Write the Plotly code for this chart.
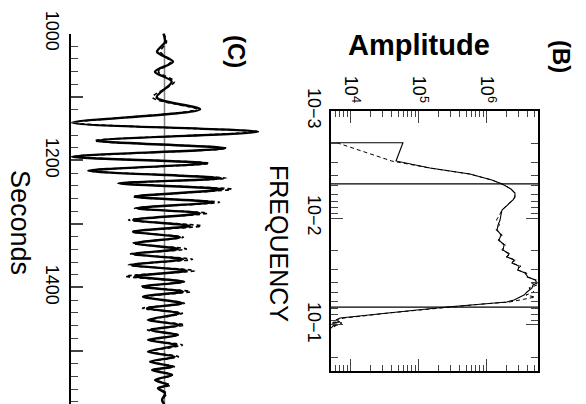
import plotly.graph_objects as go

W, H = 586, 404

# ---------------- Panel B: spectrum ----------------
spec_freq_solid = [1.98e-3, 1.98e-3, 2.93e-3, 3.41e-3, 3.88e-3, 4.42e-3, 4.81e-3, 5.36e-3, 5.84e-3,
                   6.36e-3, 6.79e-3, 7.56e-3, 8.42e-3, 9.38e-3, 1.045e-2, 1.16e-2, 1.29e-2, 1.44e-2,
                   1.61e-2, 1.79e-2, 1.99e-2, 2.17e-2, 2.31e-2, 2.47e-2, 2.63e-2, 2.81e-2, 3.06e-2,
                   3.27e-2, 3.56e-2, 3.80e-2, 4.05e-2, 4.23e-2, 4.51e-2, 4.92e-2, 5.25e-2, 5.48e-2,
                   5.84e-2, 6.09e-2, 6.36e-2, 6.79e-2, 7.24e-2, 7.73e-2, 8.25e-2, 8.61e-2, 8.98e-2,
                   9.38e-2, 9.58e-2, 0.100, 0.102, 0.107]
spec_amp_solid = [4.2e3, 5.9e4, 4.67e4, 1.48e5, 5.7e5, 1.2e6, 1.69e6, 2.29e6, 2.62e6,
                  2.62e6, 2.45e6, 2.0e6, 1.69e6, 1.63e6, 1.58e6, 1.48e6, 1.43e6, 1.63e6,
                  1.53e6, 1.81e6, 1.75e6, 2.14e6, 2.0e6, 2.54e6, 2.37e6, 3.0e6, 2.9e6,
                  3.68e6, 4.07e6, 5.16e6, 5.53e6, 4.83e6, 4.67e6, 3.94e6, 3.56e6, 3.11e6,
                  2.54e6, 2.0e6, 8.0e5, 2.62e5, 9.5e4, 3.44e4, 1.38e4, 7.0e3, 6.1e3,
                  7.0e3, 5.35e3, 6.5e3, 5.5e3, 5.2e3]

spec_freq_dash = [1.98e-3, 2.93e-3, 3.41e-3, 3.88e-3, 4.42e-3, 4.81e-3, 5.36e-3, 5.84e-3,
                  6.36e-3, 6.79e-3, 7.56e-3, 8.42e-3, 9.38e-3, 1.045e-2, 1.16e-2, 1.29e-2, 1.44e-2,
                  1.61e-2, 1.79e-2, 1.99e-2, 2.17e-2, 2.31e-2, 2.47e-2, 2.63e-2, 2.81e-2, 3.06e-2,
                  3.27e-2, 3.56e-2, 3.80e-2, 4.05e-2, 4.23e-2, 4.51e-2, 4.92e-2, 5.25e-2, 5.48e-2,
                  5.84e-2, 6.09e-2, 6.36e-2, 6.79e-2, 7.24e-2, 7.73e-2, 8.25e-2, 8.61e-2, 8.98e-2,
                  9.38e-2, 9.58e-2, 0.100, 0.102, 0.107]
spec_amp_dash = [6.3e3, 4.0e4, 1.45e5, 5.6e5, 1.2e6, 1.69e6, 2.29e6, 2.6e6,
                 2.6e6, 2.45e6, 2.0e6, 1.69e6, 1.55e6, 1.40e6, 1.55e6, 1.38e6, 1.7e6,
                 1.48e6, 1.9e6, 1.68e6, 2.25e6, 1.95e6, 2.7e6, 2.3e6, 3.2e6, 2.8e6,
                 3.9e6, 3.9e6, 5.4e6, 4.6e6, 5.5e6, 4.2e6, 5.0e6, 3.8e6, 5.2e6,
                 3.0e6, 2.2e6, 9.0e5, 2.9e5, 1.0e5, 3.6e4, 1.5e4, 8.0e3, 6.5e3,
                 5.5e3, 7.5e3, 5.3e3, 6.0e3, 5.4e3]

cutoff_freqs = [4.8e-3, 0.068]

freq_tickvals = [1e-3, 1e-2, 1e-1]
freq_ticktext = ["10\u22123", "10\u22122", "10\u22121"]
amp_tickvals = [1e4, 1e5, 1e6]
amp_ticktext = ["10<sup>4</sup>", "10<sup>5</sup>", "10<sup>6</sup>"]

# ---------------- Panel C: waveform ----------------
wave_time = [1000.0, 1013.4, 1028.7, 1044.4, 1060.2, 1075.9, 1100.5, 1119.4, 1140.5, 1154.6,
             1168.8, 1180.8, 1194.0, 1204.4, 1216.1, 1228.0, 1235.9, 1245.4, 1257.0, 1265.8,
             1275.3, 1283.1, 1293.7, 1303.1, 1312.1, 1320.9, 1330.4, 1339.4, 1347.2, 1355.6,
             1364.6, 1373.5, 1382.4, 1390.9, 1398.7, 1406.6, 1414.5, 1424.9, 1432.8, 1440.6,
             1451.2, 1459.1, 1466.9, 1474.8, 1482.7, 1490.6, 1501.1, 1509.0, 1516.9, 1524.7,
             1529.9, 1537.8, 1545.7, 1553.5, 1558.7, 1566.6, 1577.2, 1583.5]
wave_solid = [-1, 0.5, -7.5, 8.5, -9.5, 7.2, -7.8, 35.5, -92.5, 93.5,
              -67.8, 60.5, -92.8, 42.2, -76.2, 57.2, -46.2, 58.5, -29.5, 48.5,
              -27.8, 35.5, -31.5, 25.5, -31.5, 15.5, -29.5, 13.5, -31.5, 18.5,
              -32.8, 22.2, -29.5, 18.5, -21.5, 18.5, -21.5, 17.5, -17.5, 15.5,
              -16.5, 15.5, -14.5, 13.5, -16.5, 12.5, -16.5, 10.5, -14.5, 8.5,
              -12.5, 7.5, -9.5, 3.5, -6.5, 0.5, -2.5, -0.5]
wave_dash = [-1, 2, -4, 6, -6, 10, -12, 32, -90, 90,
             -70, 62, -90, 45, -75, 62, -44, 67, -32, 55,
             -30, 43, -36, 37, -33, 19, -32, 22, -34, 28,
             -36, 30, -39, 20, -24, 26, -20, 20, -22, 18,
             -14, 20, -17, 14, -14, 18, -15, 14, -12, 10,
             -11, 8, -8, 6, -5, 2, -2, 0]
time_tickvals = [1000, 1100, 1200, 1300, 1400, 1500]
time_ticktext = ["1000", "", "1200", "", "1400", ""]

FONT = "Liberation Sans, Arial, sans-serif"

fig = go.Figure()

# Panel B traces
for f in cutoff_freqs:
    fig.add_trace(go.Scatter(x=[1e3, 1e7], y=[f, f], mode="lines",
                             line=dict(color="black", width=1.2),
                             xaxis="x", yaxis="y", showlegend=False))
fig.add_trace(go.Scatter(x=spec_amp_dash, y=spec_freq_dash, mode="lines",
                         line=dict(color="black", width=1, dash="4px,3px"),
                         xaxis="x", yaxis="y", showlegend=False))
fig.add_trace(go.Scatter(x=spec_amp_solid, y=spec_freq_solid, mode="lines",
                         line=dict(color="black", width=1.1),
                         xaxis="x", yaxis="y", showlegend=False))

# Panel C traces
fig.add_trace(go.Scatter(x=[0, 0], y=[1000, 1583.5], mode="lines",
                         line=dict(color="#808080", width=1.5),
                         xaxis="x2", yaxis="y2", showlegend=False))
fig.add_trace(go.Scatter(x=wave_dash, y=wave_time, mode="lines",
                         line=dict(color="black", width=1.6, dash="4px,3px", shape="spline", smoothing=0.8),
                         xaxis="x2", yaxis="y2", showlegend=False))
fig.add_trace(go.Scatter(x=wave_solid, y=wave_time, mode="lines",
                         line=dict(color="black", width=2.4, shape="spline", smoothing=0.8),
                         xaxis="x2", yaxis="y2", showlegend=False))

def px_x(p):
    return p / W

def px_y(p):
    return 1 - p / H

amp_minor = [m * 10 ** e for e in range(3, 7) for m in range(2, 10)]
freq_minor = [m * 10.0 ** e for e in range(-3, 0) for m in range(2, 10)]

fig.update_layout(
    width=W, height=H, autosize=False,
    margin=dict(l=0, r=0, t=0, b=0, autoexpand=False),
    paper_bgcolor="white", plot_bgcolor="rgba(0,0,0,0)",
    font=dict(family=FONT, color="black"),
    xaxis=dict(type="log", range=[3.713, 6.757], domain=[px_x(331), px_x(538)],
               anchor="y", side="top", showline=True, linecolor="black", linewidth=1.6,
               mirror="ticks", ticks="inside", ticklen=12, tickwidth=1.3, automargin=False,
               tickvals=amp_tickvals, ticktext=amp_ticktext, tickangle=90,
               tickfont=dict(size=18), ticklabelstandoff=0,
               minor=dict(ticks="inside", ticklen=6, tickwidth=1.2, tickvals=amp_minor),
               showgrid=False, zeroline=False),
    yaxis=dict(type="log", range=[-0.57, -3], domain=[px_y(371), px_y(111)],
               anchor="x", side="left", showline=True, linecolor="black", linewidth=1.6,
               mirror="ticks", ticks="inside", ticklen=12, tickwidth=1.3, automargin=False,
               tickvals=freq_tickvals, ticktext=freq_ticktext, tickangle=90,
               tickfont=dict(size=18), ticklabelstandoff=0,
               minor=dict(ticks="inside", ticklen=7, tickwidth=1.2, tickvals=freq_minor),
               showgrid=False, zeroline=False),
    xaxis2=dict(range=[-93.5, 105.5], domain=[px_x(71), px_x(270)], anchor="y2",
                visible=False, automargin=False),
    yaxis2=dict(range=[1583.5, 1000], domain=[0, px_y(33.5)], anchor="x2",
                side="left", showline=True, linecolor="black", linewidth=1.8,
                ticks="inside", ticklen=12, tickwidth=1.5, automargin=False,
                tickvals=time_tickvals, ticktext=time_ticktext, tickangle=90,
                tickfont=dict(size=18), ticklabelstandoff=1,
                minor=dict(ticks="inside", ticklen=7, tickwidth=1.3, dtick=20),
                showgrid=False, zeroline=False),
)

annots = [
    dict(text="<b>(C)</b>", x=237, y=51, size=24, angle=90),
    dict(text="<b>(B)</b>", x=562, y=56, size=24, angle=90),
    dict(text="<b>Amplitude</b>", x=419, y=45, size=29, angle=0),
    dict(text="FREQUENCY", x=279, y=243, size=25, angle=90),
    dict(text="Seconds", x=20, y=222, size=27, angle=90),
]
for a in annots:
    fig.add_annotation(text=a["text"], x=px_x(a["x"]), y=px_y(a["y"]), xref="paper", yref="paper",
                       xanchor="center", yanchor="middle", showarrow=False,
                       textangle=a["angle"], font=dict(size=a["size"], family=FONT, color="black"))

fig.write_html("out.html")
